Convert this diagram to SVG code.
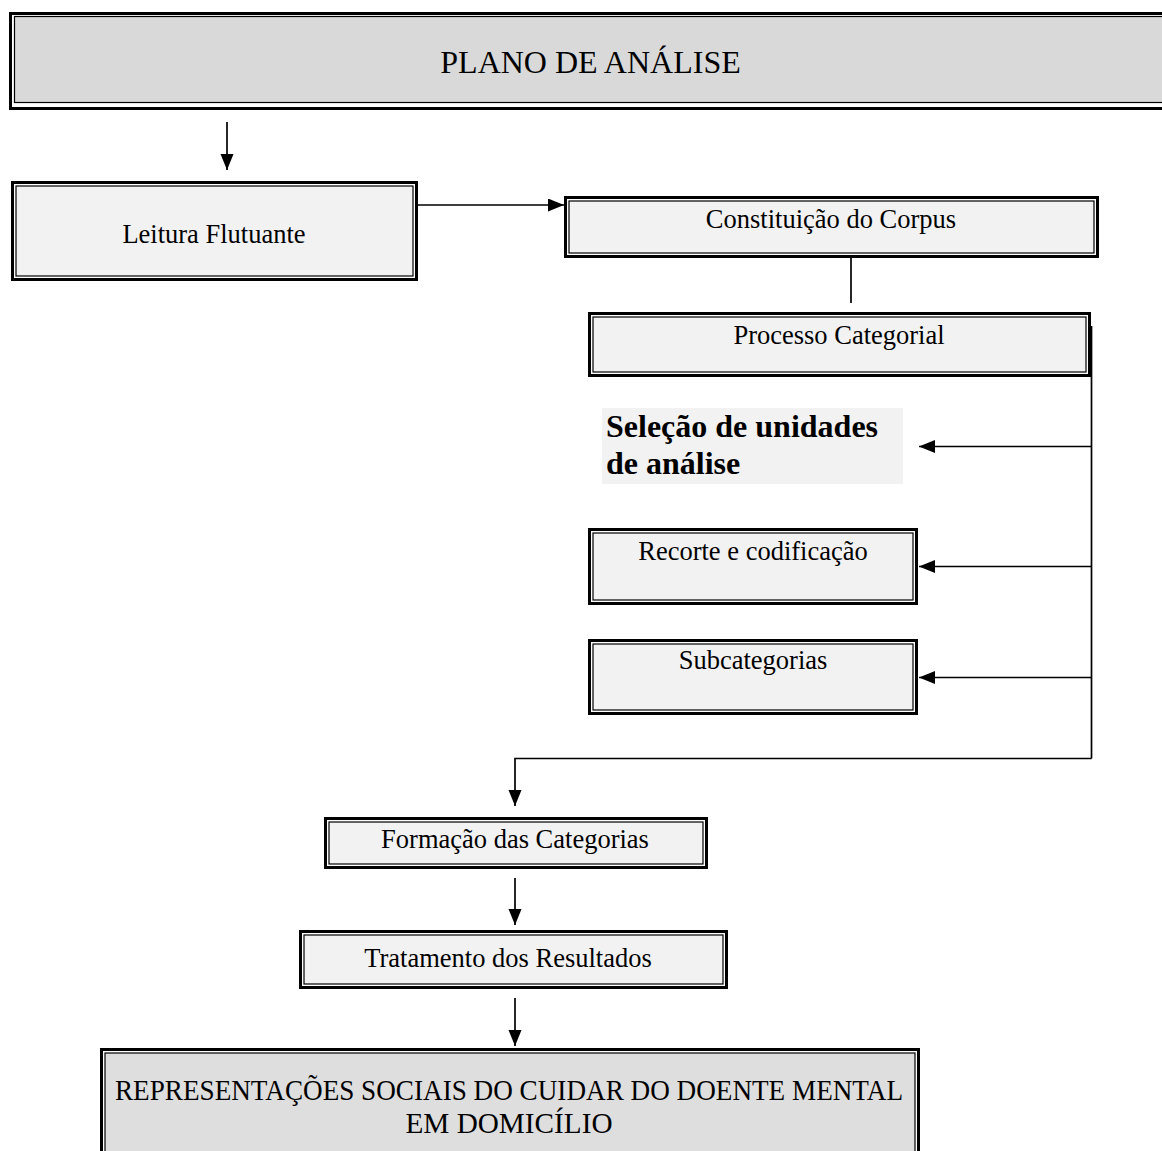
<svg xmlns="http://www.w3.org/2000/svg" width="1162" height="1151" viewBox="0 0 1162 1151">
<style>
.t{font-family:"Liberation Serif","Times New Roman",serif;font-size:26.5px;fill:#000;text-anchor:middle}
.b{font-family:"Liberation Serif","Times New Roman",serif;font-size:32px;font-weight:bold;fill:#000}
.o{fill:#fff;stroke:#000;stroke-width:3}
.i{stroke:#000;stroke-width:1.2}
.light{fill:#f2f2f2}
.dark{fill:#d9d9d9}
.c{fill:none;stroke:#000;stroke-width:1.7}
</style>
<defs>
<marker id="arr" markerUnits="userSpaceOnUse" markerWidth="16" markerHeight="14" refX="16" refY="6.5" orient="auto">
<path d="M0,0 L16,6.5 L0,13 z" fill="#000"/>
</marker>
</defs>
<rect width="1162" height="1151" fill="#fff"/>

<g id="plano">
<rect class="o" x="10.5" y="13.5" width="1170" height="95"/>
<rect class="i dark" x="14.5" y="16.5" width="1170" height="86" stroke-width="2.2"/>
<text class="t" x="590.5" y="73" style="font-size:32px">PLANO DE ANÁLISE</text>
</g>

<g id="leitura">
<rect class="o" x="12.5" y="182.5" width="404" height="97"/>
<rect class="i light" x="16" y="186" width="397" height="90"/>
<text class="t" x="214" y="243">Leitura Flutuante</text>
</g>

<g id="constituicao">
<rect class="o" x="565.5" y="197.5" width="532" height="59"/>
<rect class="i light" x="569" y="201" width="525" height="52"/>
<text class="t" x="831" y="228">Constituição do Corpus</text>
</g>

<g id="processo">
<rect class="o" x="589.5" y="313.5" width="500" height="62"/>
<rect class="i light" x="593" y="317" width="493" height="55"/>
<text class="t" x="839" y="344">Processo Categorial</text>
</g>

<g id="selecao">
<rect class="light" x="602" y="408" width="301" height="76"/>
<text class="b" x="606" y="437">Seleção de unidades</text>
<text class="b" x="606" y="474">de análise</text>
</g>

<g id="recorte">
<rect class="o" x="589.5" y="529.5" width="327" height="74"/>
<rect class="i light" x="593" y="533" width="320" height="67"/>
<text class="t" x="753" y="560">Recorte e codificação</text>
</g>

<g id="subcategorias">
<rect class="o" x="589.5" y="640.5" width="327" height="73"/>
<rect class="i light" x="593" y="644" width="320" height="66"/>
<text class="t" x="753" y="669">Subcategorias</text>
</g>

<g id="formacao">
<rect class="o" x="325.5" y="818.5" width="381" height="49"/>
<rect class="i light" x="329" y="822" width="374" height="42"/>
<text class="t" x="515" y="848">Formação das Categorias</text>
</g>

<g id="tratamento">
<rect class="o" x="300.5" y="931.5" width="426" height="56"/>
<rect class="i light" x="304" y="935" width="419" height="49"/>
<text class="t" x="508" y="967">Tratamento dos Resultados</text>
</g>

<g id="representacoes">
<rect class="o" x="101.5" y="1049.5" width="817" height="120"/>
<rect class="i" x="105" y="1053" width="810" height="120" fill="#dedede"/>
<text class="t" x="509" y="1100" style="font-size:29px" textLength="788" lengthAdjust="spacingAndGlyphs">REPRESENTAÇÕES SOCIAIS DO CUIDAR DO DOENTE MENTAL</text>
<text class="t" x="509" y="1133" style="font-size:29px" textLength="207" lengthAdjust="spacingAndGlyphs">EM DOMICÍLIO</text>
</g>

<g id="connectors">
<line class="c" x1="227" y1="122" x2="227" y2="170" marker-end="url(#arr)"/>
<line class="c" x1="418" y1="205" x2="564" y2="205" marker-end="url(#arr)"/>
<line class="c" x1="851" y1="258" x2="851" y2="303"/>
<line class="c" x1="1091.5" y1="326" x2="1091.5" y2="758.5" stroke="#333"/>
<line class="c" x1="1091.5" y1="446.5" x2="919" y2="446.5" marker-end="url(#arr)"/>
<line class="c" x1="1091.5" y1="566.5" x2="919" y2="566.5" marker-end="url(#arr)"/>
<line class="c" x1="1091.5" y1="677.5" x2="919" y2="677.5" marker-end="url(#arr)"/>
<polyline class="c" points="1091.5,758.5 515,758.5 515,806" marker-end="url(#arr)"/>
<line class="c" x1="515" y1="878" x2="515" y2="925" marker-end="url(#arr)"/>
<line class="c" x1="515" y1="998" x2="515" y2="1046" marker-end="url(#arr)"/>
</g>
</svg>
